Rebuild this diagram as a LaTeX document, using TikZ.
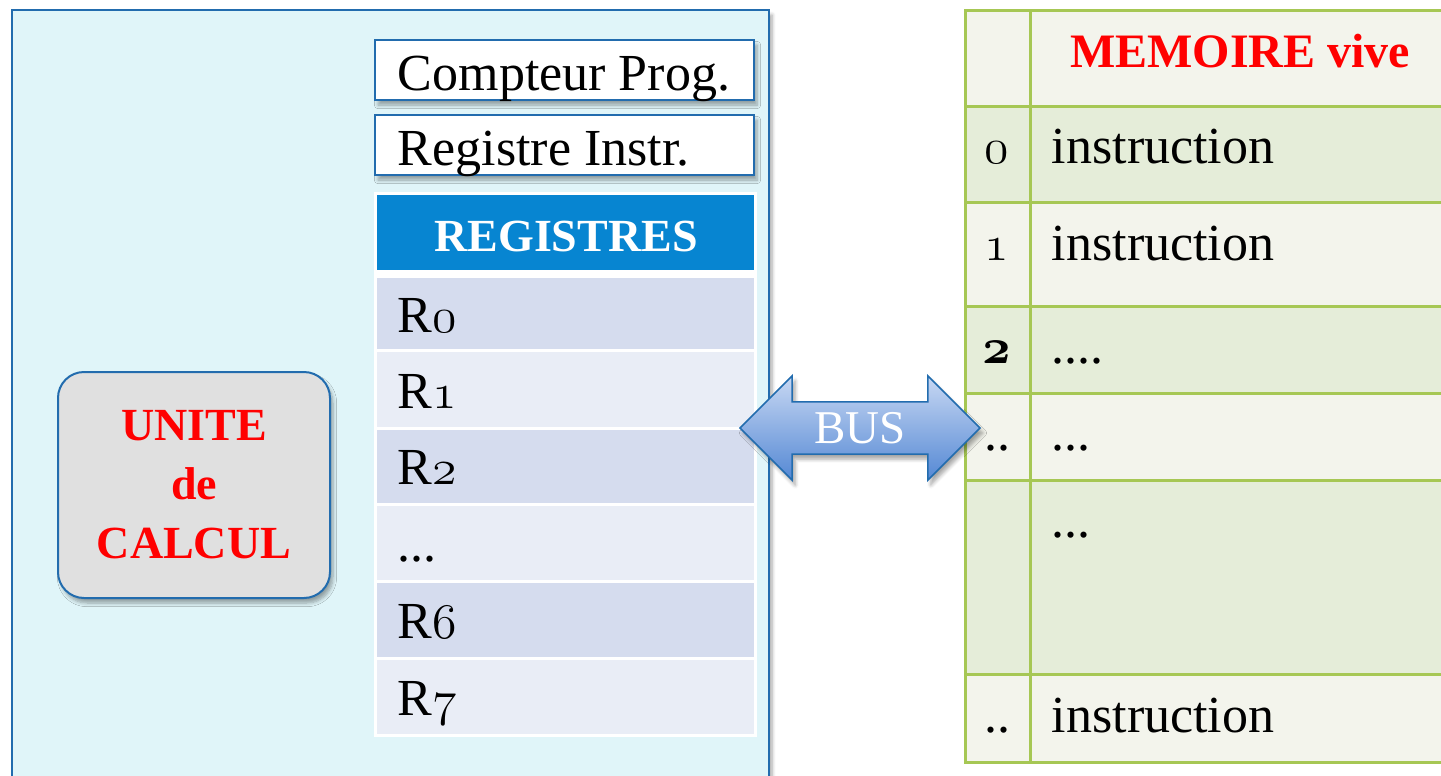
\documentclass[tikz,border=0pt]{standalone}
\usepackage{fontspec}
\setmainfont{Liberation Serif}
\usetikzlibrary{shapes.arrows}
\usetikzlibrary{shadows.blur}

\definecolor{cpuFill}{RGB}{224,245,249}
\definecolor{cpuLine}{RGB}{34,108,174}
\definecolor{regHead}{RGB}{7,133,209}
\definecolor{regDark}{RGB}{213,220,238}
\definecolor{regLight}{RGB}{233,237,246}
\definecolor{aluFill}{RGB}{224,224,224}
\definecolor{memLine}{RGB}{166,199,84}
\definecolor{memLight}{RGB}{243,244,236}
\definecolor{memGreen}{RGB}{229,237,217}
\definecolor{busTop}{RGB}{200,216,243}
\definecolor{busBottom}{RGB}{84,136,212}

\newcommand{\osnum}[1]{{\usefont{OML}{lmm}{m}{it}#1}}
\newcommand{\osnumbf}[1]{{\usefont{OML}{cmm}{b}{it}#1}}

\tikzset{
  txt/.style={inner sep=0.75pt, font=\fontsize{26}{30}\selectfont},
  txtbold/.style={inner sep=0.75pt, font=\fontsize{23}{29.5}\selectfont\bfseries},
  softshadow/.style={blur shadow={shadow xshift=1.5pt, shadow yshift=-2.5pt, shadow blur steps=6, shadow opacity=35}},
  regbox/.style={draw=cpuLine, line width=1pt, fill=white, softshadow},
  memline/.style={draw=memLine, line width=1.5pt},
  alubox/.style={draw=cpuLine, line width=1pt, fill=aluFill, rounded corners=13pt,
    minimum width=136pt, minimum height=113pt, align=center, text=red, softshadow},
  busarrow/.style={double arrow, double arrow tip angle=90, double arrow head extend=13pt,
    minimum height=120pt, inner xsep=0pt, inner ysep=5.1pt, text height=15.25pt, text depth=0pt,
    draw=cpuLine, line width=0.75pt, top color=busTop, bottom color=busBottom, text=white,
    font=\fontsize{23.5}{26}\selectfont, softshadow}
}

\begin{document}
\begin{tikzpicture}[x=0.5pt,y=0.5pt,yscale=-1,xscale=1]
\useasboundingbox (0,0) rectangle (1441,776);
\clip (0,0) rectangle (1441,776);

%Shape: Rectangle [processeur]
\draw [draw=cpuLine, line width=1pt, fill=cpuFill, softshadow] (12,10) rectangle (769,800);

%Shape: Rectangle [compteur]
\draw [regbox] (375,40) rectangle (754,100);
%Shape: Rectangle [instruction]
\draw [regbox] (375,115) rectangle (754,175);

%Shape: Table [registres]
\fill [white] (374,192) rectangle (757,737);
\fill [regHead] (377,195) rectangle (754,270);
\fill [regDark] (377,278) rectangle (754,349);
\fill [regLight] (377,352) rectangle (754,427);
\fill [regDark] (377,430) rectangle (754,503);
\fill [regLight] (377,506) rectangle (754,580);
\fill [regDark] (377,583) rectangle (754,657);
\fill [regLight] (377,660) rectangle (754,734);

%Shape: Table [memoire]
\fill [memLight] (965,10) rectangle (1460,106);
\fill [memGreen] (965,106) rectangle (1460,202);
\fill [memLight] (965,202) rectangle (1460,306);
\fill [memGreen] (965,306) rectangle (1460,393);
\fill [memLight] (965,393) rectangle (1460,480);
\fill [memGreen] (965,480) rectangle (1460,674);
\fill [memLight] (965,674) rectangle (1460,762);
\draw [memline] (965,10) rectangle (1460,762);
\draw [memline] (965,106) -- (1460,106) (965,202) -- (1460,202) (965,306) -- (1460,306)
  (965,393) -- (1460,393) (965,480) -- (1460,480) (965,674) -- (1460,674);
\draw [memline] (1030,10) -- (1030,762);

% Text Node
\draw (396,90) node (pc) [anchor=base west][txt] {Compteur Prog.};
% Text Node
\draw (396,165) node (ri) [anchor=base west][txt] {Registre Instr.};
% Text Node
\draw (566,251) node (regs) [anchor=base][txtbold, text=white] {REGISTRES};
% Text Node
\draw (396,332) node (r0) [anchor=base west][txt] {R\osnum{0}};
% Text Node
\draw (396,408) node (r1) [anchor=base west][txt] {R\osnum{1}};
% Text Node
\draw (396,484) node (r2) [anchor=base west][txt] {R\osnum{2}};
% Text Node
\draw (396,561) node (rdots) [anchor=base west][txt] {...};
% Text Node
\draw (396,638) node (r6) [anchor=base west][txt] {R\osnum{6}};
% Text Node
\draw (396,715) node (r7) [anchor=base west][txt] {R\osnum{7}};

% Text Node
\draw (194,485) node (alu) [alubox][txtbold] {UNITE\\de\\CALCUL};

% Text Node
\draw (1240,67) node (mem) [anchor=base][txtbold, text=red, font=\fontsize{24}{28}\selectfont\bfseries] {MEMOIRE vive};
% Text Node
\draw (997,163) node (a0) [anchor=base][txt] {\osnum{0}};
\draw (1050,163) node (m0) [anchor=base west][txt] {instruction};
% Text Node
\draw (997,260) node (a1) [anchor=base][txt] {\osnum{1}};
\draw (1050,260) node (m1) [anchor=base west][txt] {instruction};
% Text Node
\draw (997,363) node (a2) [anchor=base][txt] {\osnumbf{2}};
\draw (1050,363) node (m2) [anchor=base west][txt] {....};
% Text Node
\draw (997,450) node (a3) [anchor=base][txt] {..};
\draw (1050,450) node (m3) [anchor=base west][txt] {...};
% Text Node
\draw (1050,537) node (m4) [anchor=base west][txt] {...};
% Text Node
\draw (997,732) node (a5) [anchor=base][txt] {..};
\draw (1050,732) node (m5) [anchor=base west][txt] {instruction};

%Shape: Double Arrow [bus]
\draw (860,428) node (bus) [busarrow] {BUS};

\end{tikzpicture}
\end{document}
